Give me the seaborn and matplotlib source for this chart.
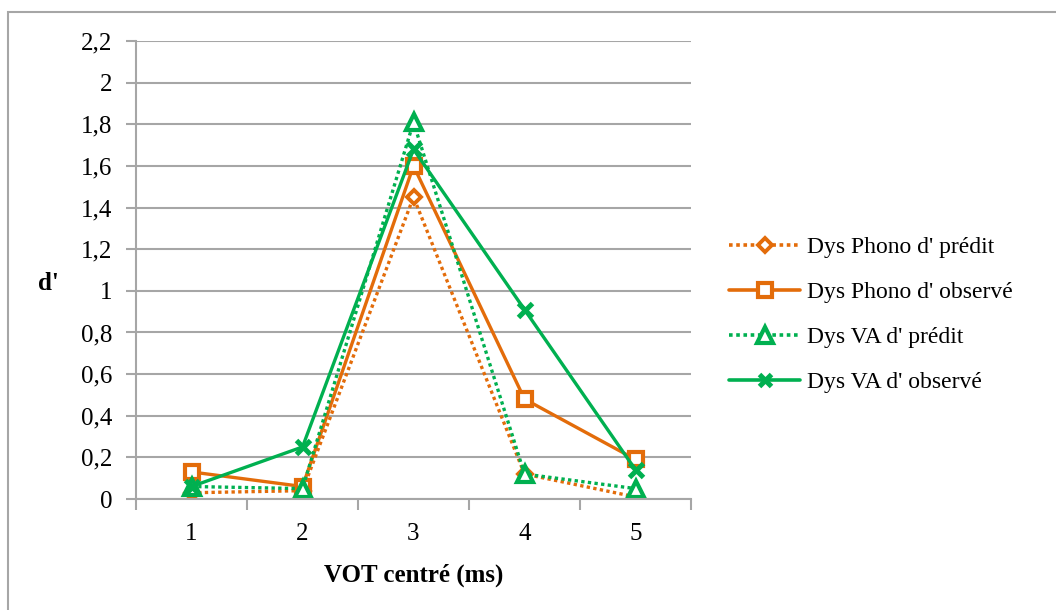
import matplotlib
matplotlib.use("Agg")
import matplotlib.pyplot as plt
import seaborn as sns
import pandas as pd
import numpy as np
from matplotlib.patches import Rectangle
from matplotlib.lines import Line2D
from matplotlib.ticker import FixedLocator, FuncFormatter

vot = [1, 2, 3, 4, 5]
phono_predit = [0.03, 0.04, 1.45, 0.12, 0.01]
phono_observe = [0.13, 0.06, 1.60, 0.48, 0.19]
va_predit = [0.06, 0.05, 1.81, 0.12, 0.05]
va_observe = [0.06, 0.25, 1.68, 0.91, 0.14]
series_names = ["Dys Phono d' prédit", "Dys Phono d' observé", "Dys VA d' prédit", "Dys VA d' observé"]
yticks = [0, 0.2, 0.4, 0.6, 0.8, 1, 1.2, 1.4, 1.6, 1.8, 2, 2.2]

ORANGE = "#E36C0A"
GREEN = "#00B050"
GRID = "#A6A6A6"

sns.set_theme(style="white")
plt.rcParams['font.family'] = ['Liberation Serif', 'DejaVu Serif']
plt.rcParams['text.color'] = 'black'

fig = plt.figure(figsize=(10.56, 6.10), dpi=100)
W, H = 1056, 610
ax = fig.add_axes([136 / W, 1 - 499 / H, (691 - 136) / W, (499 - 41) / H])

# figure border
fig.patches.append(Rectangle((8 / W, -0.05), 1.1, 1 - 12 / H + 0.05, transform=fig.transFigure,
                             fill=False, edgecolor="#A6A6A6", linewidth=1.5, zorder=0))

vals = [phono_predit, phono_observe, va_predit, va_observe]
df = pd.DataFrame({
    "x": np.tile(vot, 4),
    "y": np.concatenate(vals),
    "serie": np.repeat(series_names, 5),
})

styles = [
    dict(color=ORANGE, marker="D", ms=7.5, ls=(0, (1, 1)), mfc="white", mew=2.8),
    dict(color=ORANGE, marker="s", ms=10.5, ls="-", mfc="white", mew=3.0),
    dict(color=GREEN, marker="^", ms=11.5, ls=(0, (1, 1)), mfc="white", mew=3.0),
    dict(color=GREEN, marker="x", ms=9.5, ls="-", mfc=GREEN, mew=3.6),
]

handles = []
for name, st in zip(series_names, styles):
    sub = df[df["serie"] == name]
    sns.lineplot(data=sub, x="x", y="y", ax=ax, color=st["color"], linewidth=2.4,
                 linestyle=st["ls"], marker=st["marker"], markersize=st["ms"],
                 markerfacecolor=st["mfc"], markeredgecolor=st["color"],
                 markeredgewidth=st["mew"],
                 dash_capstyle="butt", label=name, legend=False)
    handles.append(Line2D([], [], color=st["color"], linewidth=2.6, linestyle=st["ls"],
                          marker=st["marker"], markersize=st["ms"] * 0.95,
                          markerfacecolor=st["mfc"], markeredgecolor=st["color"],
                          markeredgewidth=st["mew"]))

ax.set_xlim(0.5, 5.5)
ax.set_ylim(0, 2.2)
ax.set_yticks(yticks)
ax.yaxis.set_major_formatter(FuncFormatter(lambda v, p: f"{v:g}".replace(".", ",")))
ax.set_xticks(vot)
ax.xaxis.set_minor_locator(FixedLocator([0.5, 1.5, 2.5, 3.5, 4.5, 5.5]))
ax.tick_params(axis="x", which="major", length=0, pad=17, labelsize=18, labelcolor="black")
ax.tick_params(axis="x", which="minor", length=8, width=1.5, color=GRID, direction="out", bottom=True)
ax.tick_params(axis="y", which="major", length=7, width=1.5, color=GRID, direction="out",
               pad=10, labelsize=18, labelcolor="black", left=True)
ax.grid(axis="y", color=GRID, linewidth=1.5)
ax.grid(axis="x", visible=False)
ax.set_axisbelow(True)
for s in ["top", "right"]:
    ax.spines[s].set_visible(False)
for s in ["left", "bottom"]:
    ax.spines[s].set_color(GRID)
    ax.spines[s].set_linewidth(1.5)

ax.set_xlabel("VOT centré (ms)", fontsize=18, fontweight="bold", labelpad=14, color="black")
ax.set_ylabel("")
fig.text(48 / W, 1 - 283 / H, "d'", fontsize=18, fontweight="bold", ha="center", va="center", color="black")

leg = fig.legend(handles=handles, labels=series_names, loc="center left",
                 bbox_to_anchor=(708 / W, 1 - 315 / H), frameon=False, fontsize=17,
                 handlelength=3.0, handletextpad=0.3, labelspacing=1.0)

fig.savefig("out.png", dpi=100)
